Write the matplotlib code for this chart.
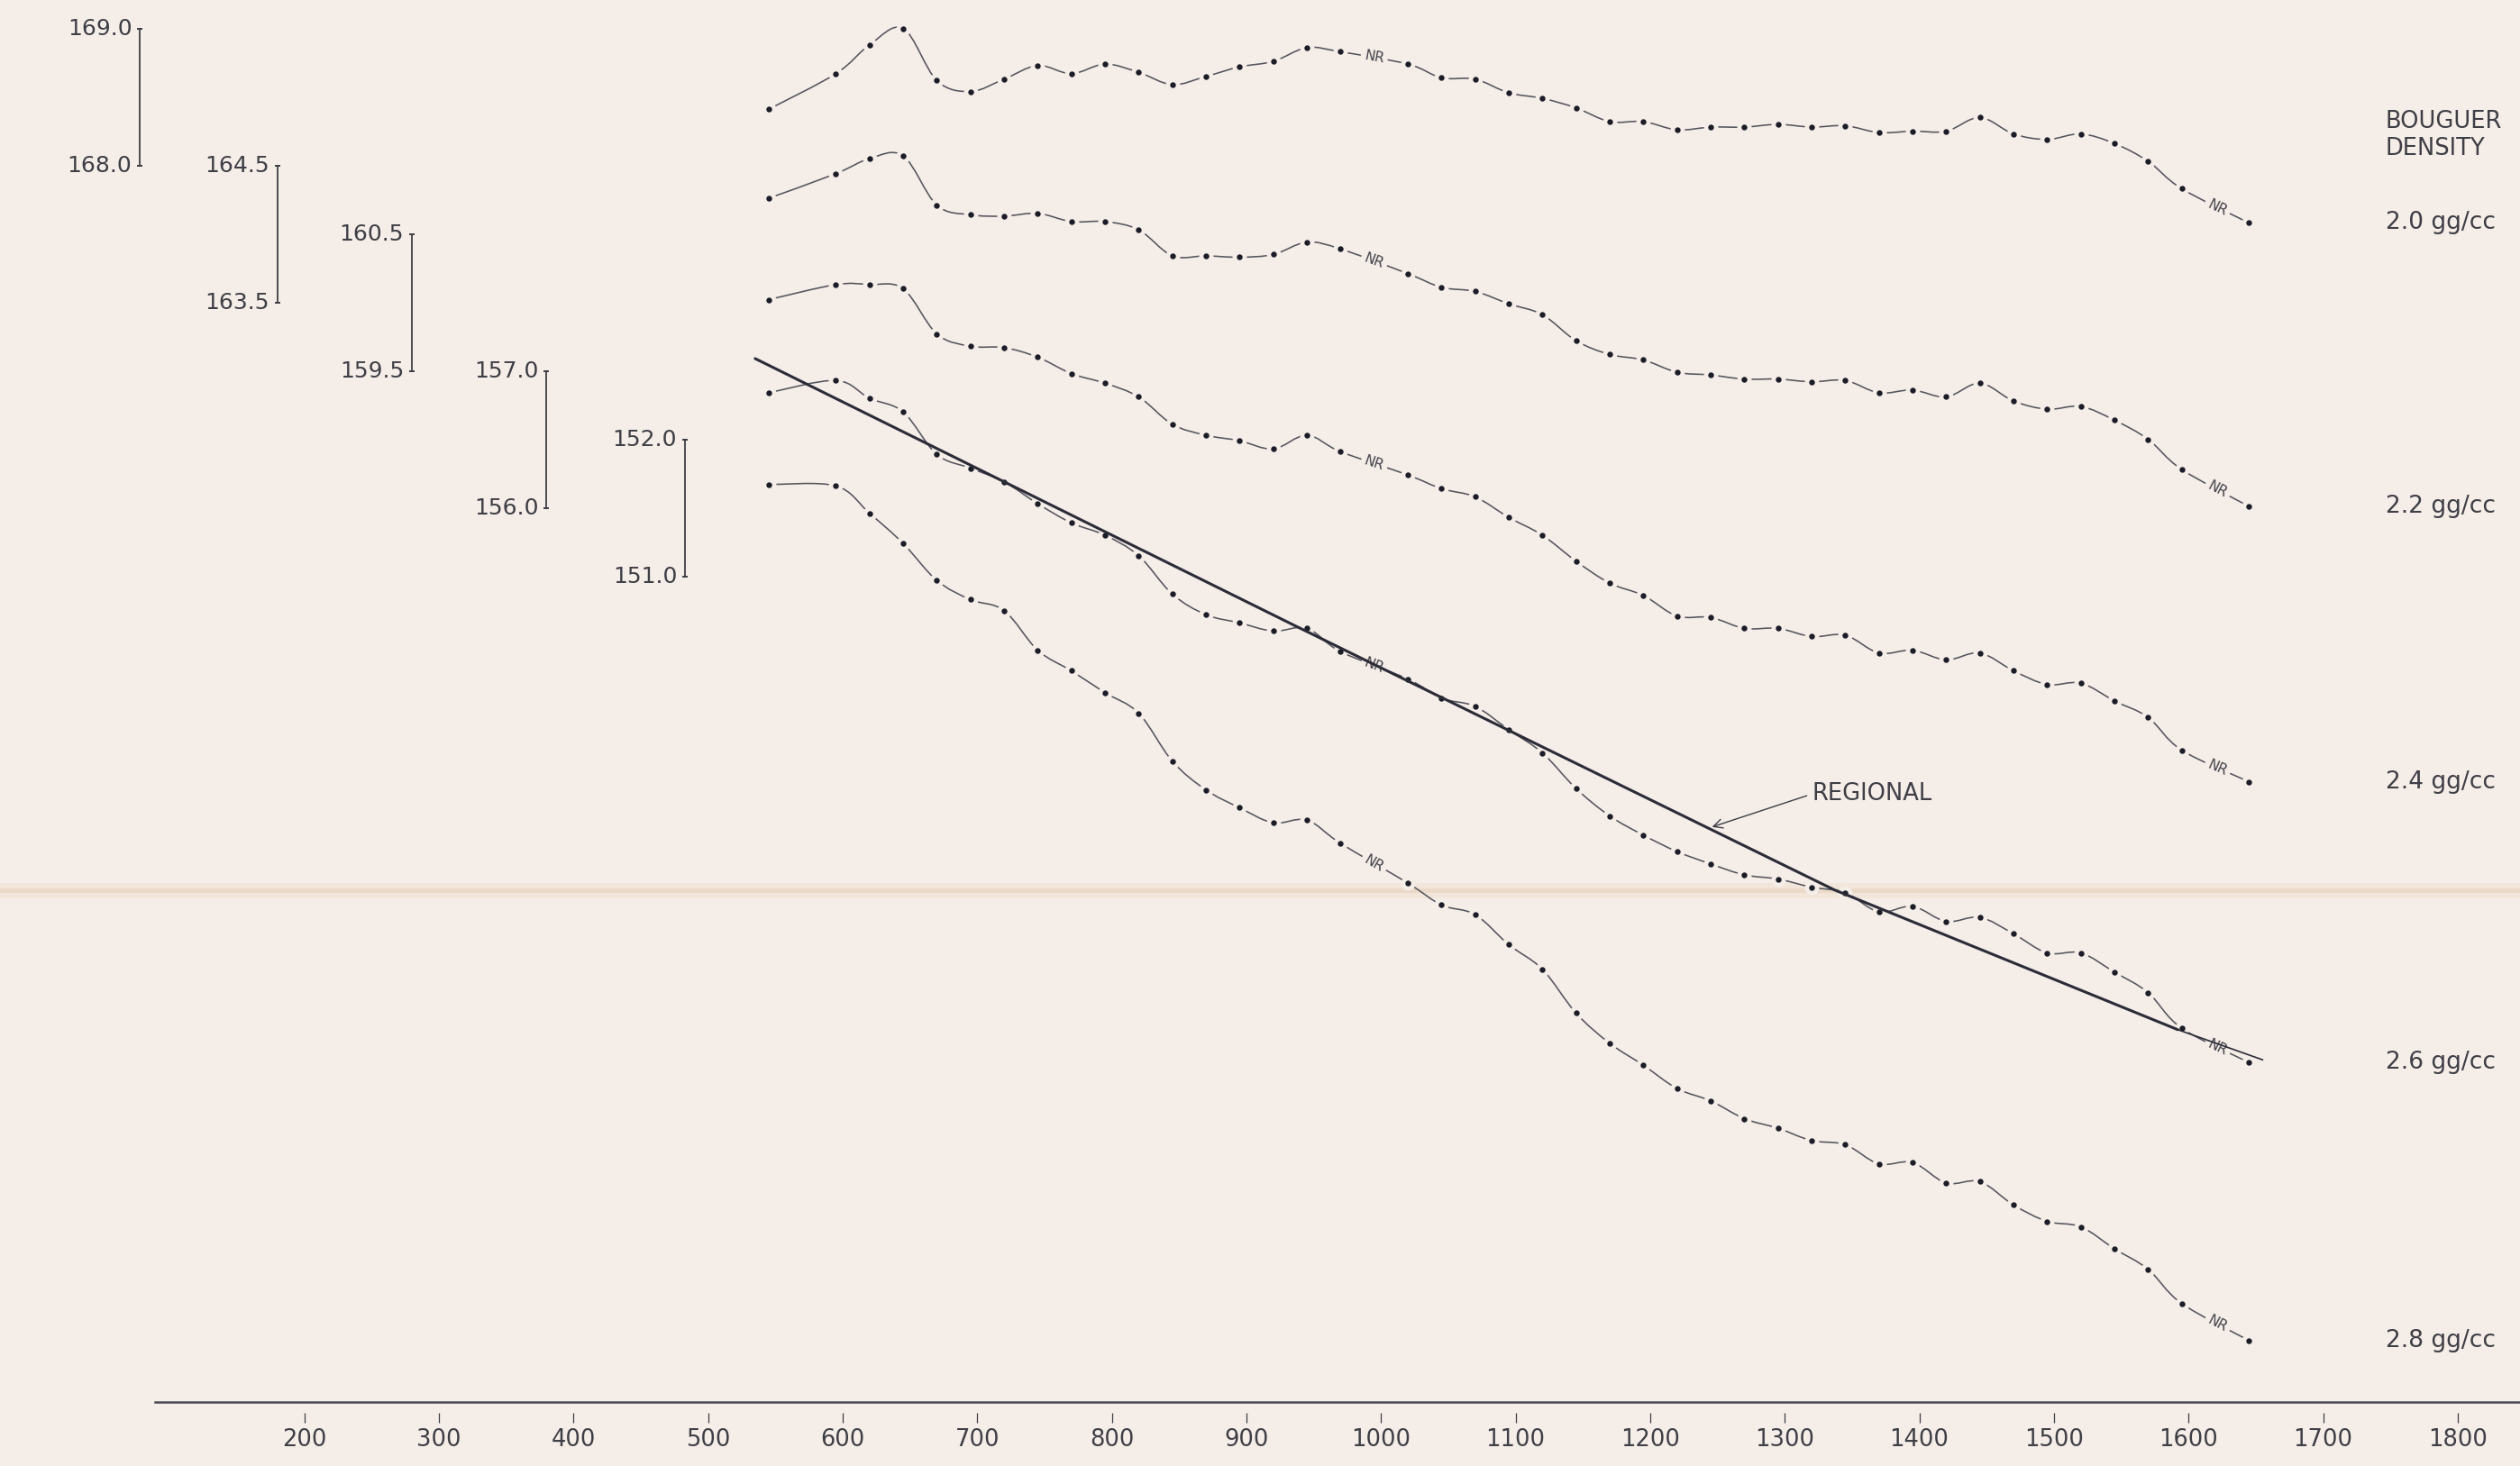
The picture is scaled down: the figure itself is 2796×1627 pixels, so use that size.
import numpy as np
import matplotlib
matplotlib.use('Agg')
import matplotlib.pyplot as plt
from matplotlib.path import Path
from matplotlib.patches import PathPatch

# station positions along the traverse
stations = [545, 595, 620, 645, 670, 695, 720, 745, 770, 795, 820, 845, 870,
            895, 920, 945, 970, 1020, 1045, 1070, 1095, 1120, 1145, 1170, 1195,
            1220, 1245, 1270, 1295, 1320, 1345, 1370, 1395, 1420, 1445, 1470,
            1495, 1520, 1545, 1570, 1595, 1645]
no_reading = [995, 1620]

# Bouguer anomaly (mgal) for each reduction density
g_20 = [168.41, 168.67, 168.88, 169.00, 168.62, 168.54, 168.63, 168.73, 168.67,
        168.74, 168.68, 168.59, 168.65, 168.72, 168.76, 168.86, 168.83, 168.74,
        168.64, 168.63, 168.53, 168.49, 168.42, 168.32, 168.32, 168.26, 168.28,
        168.28, 168.30, 168.28, 168.29, 168.24, 168.25, 168.25, 168.35, 168.23,
        168.19, 168.23, 168.16, 168.03, 167.83, 167.58]
g_22 = [164.26, 164.44, 164.55, 164.57, 164.21, 164.14, 164.13, 164.15, 164.09,
        164.09, 164.03, 163.84, 163.84, 163.83, 163.85, 163.94, 163.89, 163.71,
        163.61, 163.58, 163.49, 163.41, 163.22, 163.12, 163.08, 162.99, 162.97,
        162.94, 162.94, 162.92, 162.93, 162.84, 162.86, 162.81, 162.91, 162.78,
        162.72, 162.74, 162.64, 162.50, 162.28, 162.01]
g_24 = [160.02, 160.13, 160.13, 160.10, 159.77, 159.68, 159.67, 159.60, 159.48,
        159.41, 159.31, 159.11, 159.03, 158.99, 158.93, 159.03, 158.91, 158.74,
        158.64, 158.58, 158.43, 158.30, 158.11, 157.95, 157.86, 157.71, 157.70,
        157.62, 157.62, 157.56, 157.57, 157.44, 157.46, 157.39, 157.44, 157.31,
        157.21, 157.22, 157.09, 156.97, 156.73, 156.50]
g_26 = [156.84, 156.93, 156.80, 156.70, 156.39, 156.29, 156.19, 156.03, 155.89,
        155.80, 155.65, 155.37, 155.22, 155.16, 155.10, 155.12, 154.95, 154.75,
        154.61, 154.55, 154.38, 154.21, 153.95, 153.75, 153.61, 153.49, 153.40,
        153.32, 153.29, 153.23, 153.19, 153.05, 153.09, 152.98, 153.01, 152.89,
        152.75, 152.75, 152.61, 152.46, 152.20, 151.95]
g_28 = [151.67, 151.66, 151.46, 151.24, 150.97, 150.83, 150.75, 150.46, 150.31,
        150.15, 150.00, 149.65, 149.44, 149.31, 149.20, 149.22, 149.05, 148.76,
        148.60, 148.53, 148.31, 148.13, 147.81, 147.59, 147.43, 147.26, 147.17,
        147.04, 146.97, 146.88, 146.85, 146.71, 146.72, 146.57, 146.58, 146.41,
        146.29, 146.25, 146.09, 145.94, 145.69, 145.42]

densities = ['2.0', '2.2', '2.4', '2.6', '2.8']
profiles = [g_20, g_22, g_24, g_26, g_28]

# 1 mgal scale bar for each profile, and the shift used to stack them
bar_top = [169.0, 164.5, 160.5, 157.0, 152.0]
bar_x = [78, 180, 280, 380, 483]
shift = [0.0, 3.5, 7.0, 9.5, 14.0]

# regional gradient picked on the 2.6 profile
regional_x = [535, 936, 1337, 1592, 1655]
regional_g = [157.09, 155.14, 153.21, 152.19, 151.97]

xticks = [200, 300, 400, 500, 600, 700, 800, 900, 1000, 1100, 1200, 1300,
          1400, 1500, 1600, 1700, 1800]

bg = '#f5ede7'
ink = '#3e3e46'
pen = '#55555e'
dot_c = '#1a1c27'

plt.rcParams['font.family'] = ['DejaVu Sans']

fig = plt.figure(figsize=(27.96, 16.27), dpi=100, facecolor=bg)
ax = fig.add_axes([0, 0, 1, 1], facecolor=bg)
ax.set_xlim(-26.05, 1846.3)
ax.set_ylim(158.504, 169.208)


def bezier_segments(px, py):
    # Catmull-Rom through the readings, as cubic Bezier pieces
    p = np.column_stack([px, py])
    q = np.vstack([p[0], p, p[-1]])
    segs = []
    for i in range(len(p) - 1):
        a, b, c, d = q[i], q[i + 1], q[i + 2], q[i + 3]
        segs.append((b, b + (c - a) / 6.0, c - (d - b) / 6.0, c))
    return segs


# fold crease in the sheet
ax.axhline(162.71, color='#efdccb', lw=12, alpha=0.4, zorder=1)
ax.axhline(162.71, color='#e9d4c0', lw=3.5, alpha=0.7, zorder=1)

xs = np.array(stations, float)
for k in range(5):
    ys = np.array(profiles[k]) + shift[k]
    segs = bezier_segments(xs, ys)
    verts = [segs[0][0]]
    codes = [Path.MOVETO]
    for s in segs:
        verts += [s[1], s[2], s[3]]
        codes += [Path.CURVE4] * 3
    ax.add_patch(PathPatch(Path(verts, codes), fill=False, ec=pen, lw=1.15, zorder=2))
    ax.plot(xs, ys, 'o', ms=11.5, color=bg, mec='none', zorder=3)
    ax.plot(xs, ys, 'o', ms=4.6, color=dot_c, mec='none', zorder=4)

    # "NR" written along the curve where a station has no reading
    for xn in no_reading:
        i = np.searchsorted(xs, xn) - 1
        b0, c1, c2, b3 = segs[i]
        mid = (b0 + 3 * c1 + 3 * c2 + b3) / 8.0
        tan = b3 + c2 - c1 - b0
        v = ax.transData.transform(mid + tan * 0.01) - ax.transData.transform(mid)
        rot = np.degrees(np.arctan2(v[1], v[0]))
        ax.text(mid[0], mid[1], 'NR', fontsize=11, color='#45454d', rotation=rot,
                rotation_mode='anchor', ha='center', va='center', zorder=3,
                bbox=dict(fc=bg, ec='none', pad=3))

    ax.text(1746.5, ys[-1], densities[k] + ' gg/cc', ha='left', va='center',
            fontsize=19, color=ink)

    # scale bar
    top = bar_top[k] + shift[k]
    bot = top - 1.0
    ax.plot([bar_x[k], bar_x[k]], [bot, top], color=ink, lw=1.3)
    ax.plot([bar_x[k], bar_x[k]], [bot, top], ls='none', marker='_', ms=5,
            mew=1.4, color=ink)
    ax.text(bar_x[k] - 6, top, f'{bar_top[k]:.1f}', ha='right', va='center',
            fontsize=18, color=ink)
    ax.text(bar_x[k] - 6, bot, f'{bar_top[k] - 1:.1f}', ha='right', va='center',
            fontsize=18, color=ink)

reg = np.array(regional_g) + shift[3]
ax.plot(regional_x[:4], reg[:4], color='#2b2c38', lw=2.2, zorder=5,
        solid_capstyle='round')
ax.plot(regional_x[3:], reg[3:], color='#2b2c38', lw=1.2, zorder=5)

ax.annotate('REGIONAL', xy=(1246, 163.17), xytext=(1320, 163.41),
            ha='left', va='center', fontsize=18.5, color=ink,
            arrowprops=dict(arrowstyle='->', color=ink, lw=1.0, relpos=(0, 0.5),
                            shrinkA=2, shrinkB=0, mutation_scale=18))

ax.text(1746.5, 168.32, 'BOUGUER', ha='left', va='center', fontsize=18.5, color=ink)
ax.text(1746.5, 168.12, 'DENSITY', ha='left', va='center', fontsize=18.5, color=ink)

# distance axis
for side in ['top', 'left', 'right']:
    ax.spines[side].set_visible(False)
ax.spines['bottom'].set_position(('data', 158.973))
ax.spines['bottom'].set_bounds(89, 1846.3)
ax.spines['bottom'].set_linewidth(1.8)
ax.spines['bottom'].set_color('#4a4a55')
ax.set_yticks([])
ax.set_xticks(xticks)
ax.set_xticklabels([str(t) for t in xticks])
ax.tick_params(axis='x', length=0, pad=21, labelsize=18.5, labelcolor=ink)
ax.vlines(xticks, 158.822, 158.894, color=ink, lw=0.9)

fig.savefig('out.png', dpi=100, facecolor=bg)
